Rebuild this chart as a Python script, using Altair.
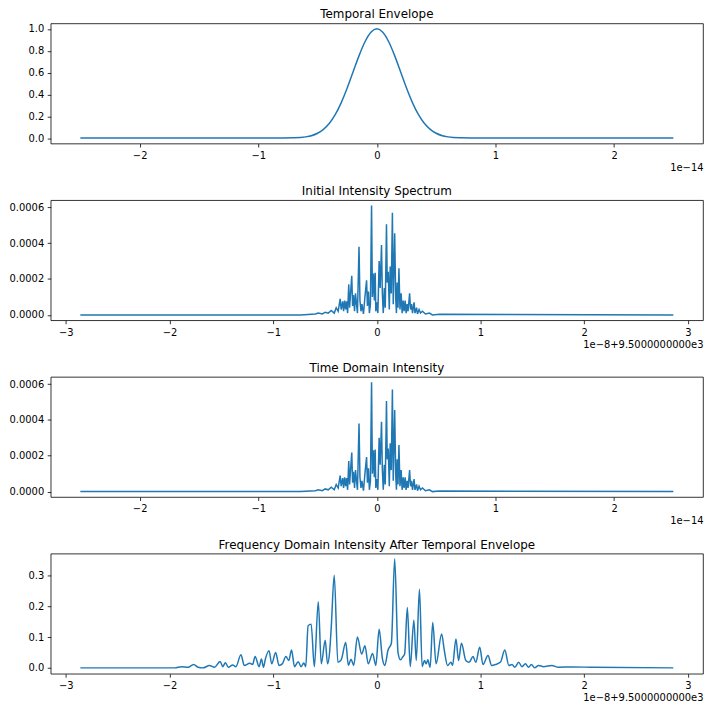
import altair as alt
import pandas as pd

# ---- Temporal envelope (time in units of 1e-14 s) ----
env_t = [-2.5, -1.2, -1.0, -0.9, -0.8, -0.7, -0.6, -0.5, -0.45, -0.4, -0.35, -0.3, -0.25, -0.2, -0.15, -0.1, -0.05, 0.0,
         0.05, 0.1, 0.15, 0.2, 0.25, 0.3, 0.35, 0.4, 0.45, 0.5, 0.6, 0.7, 0.8, 0.9, 1.0, 1.2, 2.5]
env_v = [0.0, 0.0, 0.0, 0.0, 0.0003, 0.002, 0.011, 0.044, 0.08, 0.135, 0.216, 0.325, 0.458, 0.607, 0.755, 0.882, 0.969, 1.0,
         0.969, 0.882, 0.755, 0.607, 0.458, 0.325, 0.216, 0.135, 0.08, 0.044, 0.011, 0.002, 0.0003, 0.0, 0.0, 0.0, 0.0]

# ---- Initial intensity spectrum (frequency offset in units of 1e-8, intensity in units of 1e-4) ----
spec_f = [-2.86, -0.737, -0.593, -0.565, -0.526, -0.498, -0.469, -0.440, -0.411, -0.392, -0.373, -0.354, -0.344, -0.330,
          -0.321, -0.311, -0.301, -0.292, -0.282, -0.271, -0.263, -0.242, -0.234, -0.225, -0.215, -0.206, -0.196, -0.187,
          -0.172, -0.163, -0.153, -0.144, -0.129, -0.115, -0.099, -0.091, -0.081, -0.072, -0.062, -0.051, -0.043, -0.033,
          -0.024, -0.016, -0.010, 0.000, 0.010, 0.022, 0.032, 0.045, 0.053, 0.062, 0.072, 0.081, 0.093, 0.100, 0.110,
          0.120, 0.129, 0.139, 0.150, 0.158, 0.172, 0.182, 0.189, 0.196, 0.204, 0.213, 0.223, 0.234, 0.244, 0.254, 0.263,
          0.273, 0.282, 0.292, 0.301, 0.316, 0.325, 0.335, 0.344, 0.359, 0.368, 0.383, 0.392, 0.407, 0.421, 0.440, 0.469,
          0.507, 0.536, 0.603, 2.86]
spec_v = [0.0, 0.0, 0.05, 0.1, 0.05, 0.15, 0.1, 0.25, 0.1, 0.4, 0.2, 0.89, 0.3, 0.75,
          0.2, 0.8, 0.3, 0.75, 0.1, 1.7, 0.4, 2.18, 0.5, 1.1, 0.2, 1.2, 0.6, 0.1,
          3.8, 0.8, 0.2, 0.6, 0.05, 1.0, 1.93, 0.5, 1.3, 0.1, 0.6, 6.1, 1.0, 2.3,
          0.8, 2.35, 0.2, 0.7, 0.1, 3.0, 1.5, 3.9, 1.2, 0.1, 1.5, 0.4, 5.05, 1.8, 2.4,
          0.3, 2.7, 1.2, 5.7, 0.6, 4.55, 0.9, 0.1, 1.8, 0.4, 2.6, 0.3, 1.2, 0.1, 0.8, 0.2,
          0.8, 0.1, 0.6, 0.2, 1.2, 0.3, 0.6, 0.1, 0.7, 0.1, 0.4, 0.05, 0.3, 0.1, 0.2, 0.05,
          0.1, 0.0, 0.03, 0.0]

# time grid of the same samples spans +/-2.5e-14 instead of +/-2.86e-8
time_f = [f * 2.5 / 2.86 for f in spec_f]

# ---- Frequency-domain intensity after the temporal envelope ----
after_f = [-2.86, -1.949, -1.885, -1.821, -1.767, -1.725, -1.678, -1.614, -1.566, -1.512, -1.486, -1.461, -1.432,
           -1.391, -1.359, -1.311, -1.279, -1.225, -1.199, -1.174, -1.136, -1.113, -1.094, -1.075, -1.040, -1.014,
           -0.976, -0.944, -0.912, -0.877, -0.849, -0.823, -0.794, -0.759, -0.730, -0.705, -0.686, -0.663, -0.634,
           -0.603, -0.565, -0.536, -0.498, -0.476, -0.456, -0.440, -0.411, -0.376, -0.344, -0.300, -0.275, -0.249,
           -0.223, -0.188, -0.146, -0.115, -0.083, -0.041, -0.010, 0.022, 0.054, 0.077, 0.108, 0.140, 0.172, 0.204,
           0.227, 0.246, 0.268, 0.294, 0.322, 0.357, 0.380, 0.411, 0.437, 0.459, 0.476, 0.491, 0.514, 0.539, 0.571,
           0.625, 0.651, 0.682, 0.715, 0.730, 0.763, 0.788, 0.816, 0.858, 0.890, 0.928, 0.954, 0.992, 1.024, 1.072,
           1.107, 1.145, 1.193, 1.234, 1.273, 1.304, 1.330, 1.368, 1.400, 1.433, 1.464, 1.490, 1.522, 1.560, 1.608,
           1.687, 1.751, 1.879, 2.07, 2.86]
after_v = [0.0, 0.0, 0.004, 0.002, 0.011, 0.002, 0.0, 0.0075, 0.002, 0.021, 0.004, 0.017, 0.002,
           0.009, 0.004, 0.043, 0.008, 0.015, 0.011, 0.037, 0.004, 0.029, 0.002, 0.029, 0.056, 0.013,
           0.05, 0.008, 0.013, 0.037, 0.024, 0.058, 0.004, 0.02, 0.004, 0.016, 0.004, 0.137, 0.142,
           0.004, 0.215, 0.013, 0.09, 0.013, 0.05, 0.131, 0.301, 0.018, 0.026, 0.082, 0.008, 0.028,
           0.008, 0.1, 0.045, 0.072, 0.013, 0.047, 0.008, 0.125, 0.029, 0.008, 0.058, 0.08, 0.354, 0.05,
           0.026, 0.034, 0.045, 0.196, 0.004, 0.155, 0.024, 0.255, 0.004, 0.024, 0.013, 0.026, 0.002, 0.147, 0.013,
           0.11, 0.056, 0.008, 0.018, 0.008, 0.094, 0.024, 0.08, 0.024, 0.018, 0.037, 0.018, 0.067, 0.011, 0.04,
           0.008, 0.011, 0.019, 0.058, 0.008, 0.011, 0.002, 0.018, 0.004, 0.013, 0.002, 0.011, 0.0, 0.008, 0.004,
           0.008, 0.002, 0.003, 0.002, 0.0]

BLUE = "#1f77b4"
FONT = "DejaVu Sans"
W, H = 657, 121


def panel(xs, ys, title, xdom, xticks, xtitle, ydom, yticks, yfmt, interp):
    df = pd.DataFrame({"x": xs, "y": ys})
    return (
        alt.Chart(df, title=alt.TitleParams(title, fontSize=12, font=FONT, fontWeight="normal",
                                            color="black", offset=2, anchor="middle"))
        .mark_line(color=BLUE, strokeWidth=1.5, interpolate=interp)
        .encode(
            x=alt.X("x:Q", scale=alt.Scale(domain=xdom, nice=False, zero=False),
                    axis=alt.Axis(values=xticks, format="d", title=xtitle, titleAnchor="end",
                                  titleAlign="right", titlePadding=2, titleFontSize=10,
                                  titleFontWeight="normal", titleFont=FONT, titleColor="black",
                                  grid=False, domain=False)),
            y=alt.Y("y:Q", scale=alt.Scale(domain=ydom, nice=False, zero=False),
                    axis=alt.Axis(values=yticks, format=yfmt, title=None, grid=False, domain=False)),
        )
        .properties(width=W, height=H)
    )


p1 = panel(env_t, env_v, "Temporal Envelope", [-2.75, 2.75], [-2, -1, 0, 1, 2], "1e−14",
           [-0.05, 1.05], [0, 0.2, 0.4, 0.6, 0.8, 1.0], ".1f", "monotone")
p2 = panel(spec_f, [v * 1e-4 for v in spec_v], "Initial Intensity Spectrum", [-3.146, 3.146],
           [-3, -2, -1, 0, 1, 2, 3], "1e−8+9.5000000000e3",
           [-0.00003, 0.00064], [0, 0.0002, 0.0004, 0.0006], ".4f", "linear")
p3 = panel(time_f, [v * 1e-4 for v in spec_v], "Time Domain Intensity", [-2.75, 2.75], [-2, -1, 0, 1, 2], "1e−14",
           [-0.00003, 0.00064], [0, 0.0002, 0.0004, 0.0006], ".4f", "linear")
p4 = panel(after_f, after_v, "Frequency Domain Intensity After Temporal Envelope", [-3.146, 3.146],
           [-3, -2, -1, 0, 1, 2, 3], "1e−8+9.5000000000e3",
           [-0.019, 0.371], [0, 0.1, 0.2, 0.3], ".1f", "monotone")

chart = (
    alt.vconcat(p1, p2, p3, p4, spacing=11)
    .properties(padding={"left": 0, "top": -3, "right": 0, "bottom": 0}, background="white")
    .configure_view(stroke="black", strokeWidth=0.8)
    .configure_axis(grid=False, domain=False, tickSize=3.5, tickWidth=0.8, tickColor="black",
                    labelFontSize=10, labelFont=FONT, labelColor="black", labelPadding=3.5)
)

chart.save("out.html", embed_options={"renderer": "svg", "actions": False})
